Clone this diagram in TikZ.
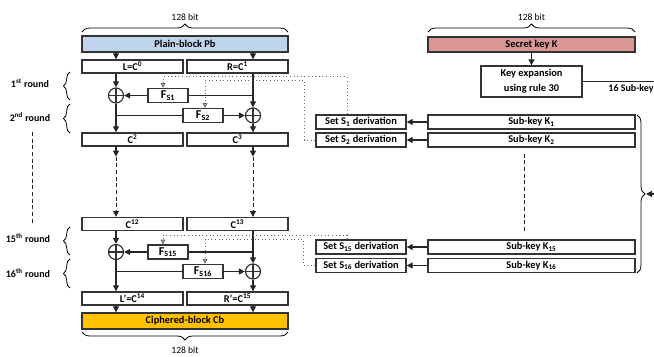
\documentclass[tikz,border=0pt]{standalone}
\usepackage{fontspec}
\setmainfont{Carlito}
\usetikzlibrary{arrows.meta,decorations.pathreplacing}
\definecolor{plainblue}{HTML}{C0D3EC}
\definecolor{keyred}{HTML}{D99694}
\definecolor{cipherorange}{HTML}{FFC000}

\begin{document}
\begin{tikzpicture}[
  x=0.75pt, y=-0.75pt,
  box/.style={draw=black!80, line width=1pt, minimum width=#1, minimum height=9.75pt, inner sep=0pt, font=\bfseries\fontsize{7.8}{8}\selectfont},
  box/.default=75.75pt,
  funcbox/.style={box=30pt, minimum height=10.5pt, font=\bfseries\fontsize{9}{9}\selectfont},
  xorop/.style={circle, draw=black!80, line width=0.9pt, minimum size=11.25pt, inner sep=0pt,
    path picture={\draw[line width=0.9pt] (path picture bounding box.north) -- (path picture bounding box.south)
      (path picture bounding box.west) -- (path picture bounding box.east);}},
  arrow/.style={-{Triangle[length=4.5pt,width=4.5pt]}, line width=0.9pt, black!85},
  link/.style={line width=0.9pt, black!85},
  gap/.style={dash pattern=on 3pt off 2pt, line width=0.7pt},
  keyline/.style={dotted, black!60, line width=0.7pt, -{Triangle[length=3.5pt,width=3.5pt,open]}},
  curly/.style={decorate, decoration={brace, amplitude=#1}, line width=0.6pt},
  plainlabel/.style={font=\fontsize{7.2}{8}\selectfont},
  roundlabel/.style={font=\bfseries\fontsize{7.5}{8}\selectfont},
]
  \useasboundingbox (0,0) rectangle (654,357);
  \clip (0,0) rectangle (654,357);

  % Input block
  \node[box=154.5pt, minimum height=12pt, fill=plainblue] (pb) at (185,44) {Plain-block Pb};
  \draw[curly=6pt] (82,32) -- (288,32);
  \node[plainlabel] (pbits) at (185,17) {128 bit};
  \node[box] (L) at (132.5,66.5) {L=C\textsuperscript{0}};
  \node[box] (R) at (237.5,66.5) {R=C\textsuperscript{1}};

  % Rounds 1 and 2
  \node[xorop] (xor1) at (116,95.5) {};
  \node[funcbox] (fs1) at (168,95.5) {F\textsubscript{S1}};
  \node[xorop] (xor2) at (253,115.5) {};
  \node[funcbox] (fs2) at (203,115.5) {F\textsubscript{S2}};
  \node[box] (C2) at (132.5,139.5) {C\textsuperscript{2}};
  \node[box] (C3) at (237.5,139.5) {C\textsuperscript{3}};

  % Rounds 15 and 16
  \node[box] (C12) at (132.5,224) {C\textsuperscript{12}};
  \node[box] (C13) at (237.5,224) {C\textsuperscript{13}};
  \node[xorop] (xor3) at (116,252) {};
  \node[funcbox] (fs15) at (168,252) {F\textsubscript{S15}};
  \node[xorop] (xor4) at (253,271.5) {};
  \node[funcbox] (fs16) at (203,271.5) {F\textsubscript{S16}};
  \node[box] (Lp) at (132.5,298.5) {L'=C\textsuperscript{14}};
  \node[box] (Rp) at (237.5,298.5) {R'=C\textsuperscript{15}};

  % Output block
  \node[box=154.5pt, minimum height=12pt, fill=cipherorange] (cb) at (185,321) {Ciphered-block Cb};
  \draw[curly=6pt] (288,332) -- (82,332);
  \node[plainlabel] (cbits) at (185,350) {128 bit};

  % Round labels
  \node[roundlabel] (r1) at (30,83) {1\textsuperscript{st} round};
  \node[roundlabel] (r2) at (30,117) {2\textsuperscript{nd} round};
  \node[roundlabel] (r15) at (28,238) {15\textsuperscript{th} round};
  \node[roundlabel] (r16) at (28,273) {16\textsuperscript{th} round};
  \draw[curly=5pt] (70,100) -- (70,72);
  \draw[curly=5pt] (70,133) -- (70,104);
  \draw[curly=5pt] (70,255) -- (70,227);
  \draw[curly=5pt] (70,288) -- (70,259);
  \coordinate (rd1) at (32,132);
  \coordinate (rd2) at (32,225);
  \draw[link, gap] (rd1) -- (rd2);

  % Key side
  \node[box=155.25pt, minimum height=11.25pt, fill=keyred] (sk) at (531.5,44.5) {Secret key K};
  \draw[curly=6pt] (428,32) -- (635,32);
  \node[plainlabel] (kbits) at (531.5,17) {128 bit};
  \node[box, minimum height=23.25pt, align=center, font=\bfseries\fontsize{7.8}{11.5}\selectfont] (kexp) at (531.5,81.5) {Key expansion\\using rule 30};
  \node[roundlabel] (nsub) at (631,89) {16 Sub-key};
  \node[box=155.25pt, minimum height=10.5pt] (k1) at (531.5,122) {Sub-key K\textsubscript{1}};
  \node[box=155.25pt, minimum height=10.5pt] (k2) at (531.5,140) {Sub-key K\textsubscript{2}};
  \node[box=155.25pt, minimum height=10.5pt] (k15) at (531.5,247) {Sub-key K\textsubscript{15}};
  \node[box=155.25pt, minimum height=10.5pt] (k16) at (531.5,265.5) {Sub-key K\textsubscript{16}};
  \node[box=67.5pt, minimum height=10.5pt] (s1) at (361,122) {Set S\textsubscript{1} derivation};
  \node[box=67.5pt, minimum height=10.5pt] (s2) at (361,140) {Set S\textsubscript{2} derivation};
  \node[box=67.5pt, minimum height=10.5pt] (s15) at (361,247) {Set S\textsubscript{15} derivation};
  \node[box=67.5pt, minimum height=10.5pt] (s16) at (361,265.5) {Set S\textsubscript{16} derivation};
  \draw[curly=6pt] (637,115) -- (637,273);
  \coordinate (subtip) at (646,194);

  % Data path arrows
  \draw[arrow] (pb.south -| xor1) -- (L.north -| xor1);
  \draw[arrow] (pb.south -| xor2) -- (R.north -| xor2);
  \draw[arrow] (L.south -| xor1) -- (xor1.north);
  \draw[arrow] (R.south -| xor2) -- (xor2.north);
  \draw[link] (fs1.east) -- (fs1.east -| xor2);
  \draw[arrow] (fs1.west) -- (xor1.east);
  \draw[link] (fs2.west -| xor1) -- (fs2.west);
  \draw[arrow] (fs2.east) -- (xor2.west);
  \draw[arrow] (xor1.south) -- (C2.north -| xor1);
  \draw[arrow] (xor2.south) -- (C3.north -| xor2);
  \draw[arrow] (C2.south -| xor1) -- ++(0,10) coordinate (ld);
  \draw[arrow] (C3.south -| xor2) -- ++(0,10) coordinate (rd);
  \draw[arrow, gap] (ld) -- (C12.north -| xor1);
  \draw[arrow, gap] (rd) -- (C13.north -| xor2);
  \draw[arrow] (C12.south -| xor3) -- (xor3.north);
  \draw[arrow] (C13.south -| xor4) -- (xor4.north);
  \draw[link] (fs15.east) -- (fs15.east -| xor4);
  \draw[arrow] (fs15.west) -- (xor3.east);
  \draw[link] (fs16.west -| xor3) -- (fs16.west);
  \draw[arrow] (fs16.east) -- (xor4.west);
  \draw[arrow] (xor3.south) -- (Lp.north -| xor3);
  \draw[arrow] (xor4.south) -- (Rp.north -| xor4);
  \draw[arrow] (Lp.south -| xor3) -- (cb.north -| xor3);
  \draw[arrow] (Rp.south -| xor4) -- (cb.north -| xor4);

  % Key path arrows
  \draw[arrow] (sk) -- (kexp);
  \draw[arrow] (kexp.east) -- ++(95,0) |- (subtip);
  \draw[arrow] (k1) -- (s1);
  \draw[arrow] (k2) -- (s2);
  \draw[arrow] (k15) -- (s15);
  \draw[arrow] (k16) -- (s16);
  \draw[link, gap] ([xshift=-5.6pt,yshift=-4.5pt]k2.south) -- ([xshift=-5.6pt,yshift=6pt]k15.north);

  % Sub-key sets to round functions
  \draw[keyline] ([xshift=-10.5pt]s1.north) -- ++(0,-37.5) -| ([xshift=-3.75pt]fs1.north);
  \draw[keyline] (s2.west) -- ++(-11,0) -- ++(0,-60) -| ([xshift=1.5pt]fs2.north);
  \draw[keyline] ([xshift=-10.5pt]s15.north) -- ++(0,-4) -| ([xshift=-3.75pt]fs15.north);
  \draw[keyline] (s16.west) -- ++(-12,0) -- ++(0,-26.5) -| ([xshift=1.5pt]fs16.north);
\end{tikzpicture}
\end{document}
